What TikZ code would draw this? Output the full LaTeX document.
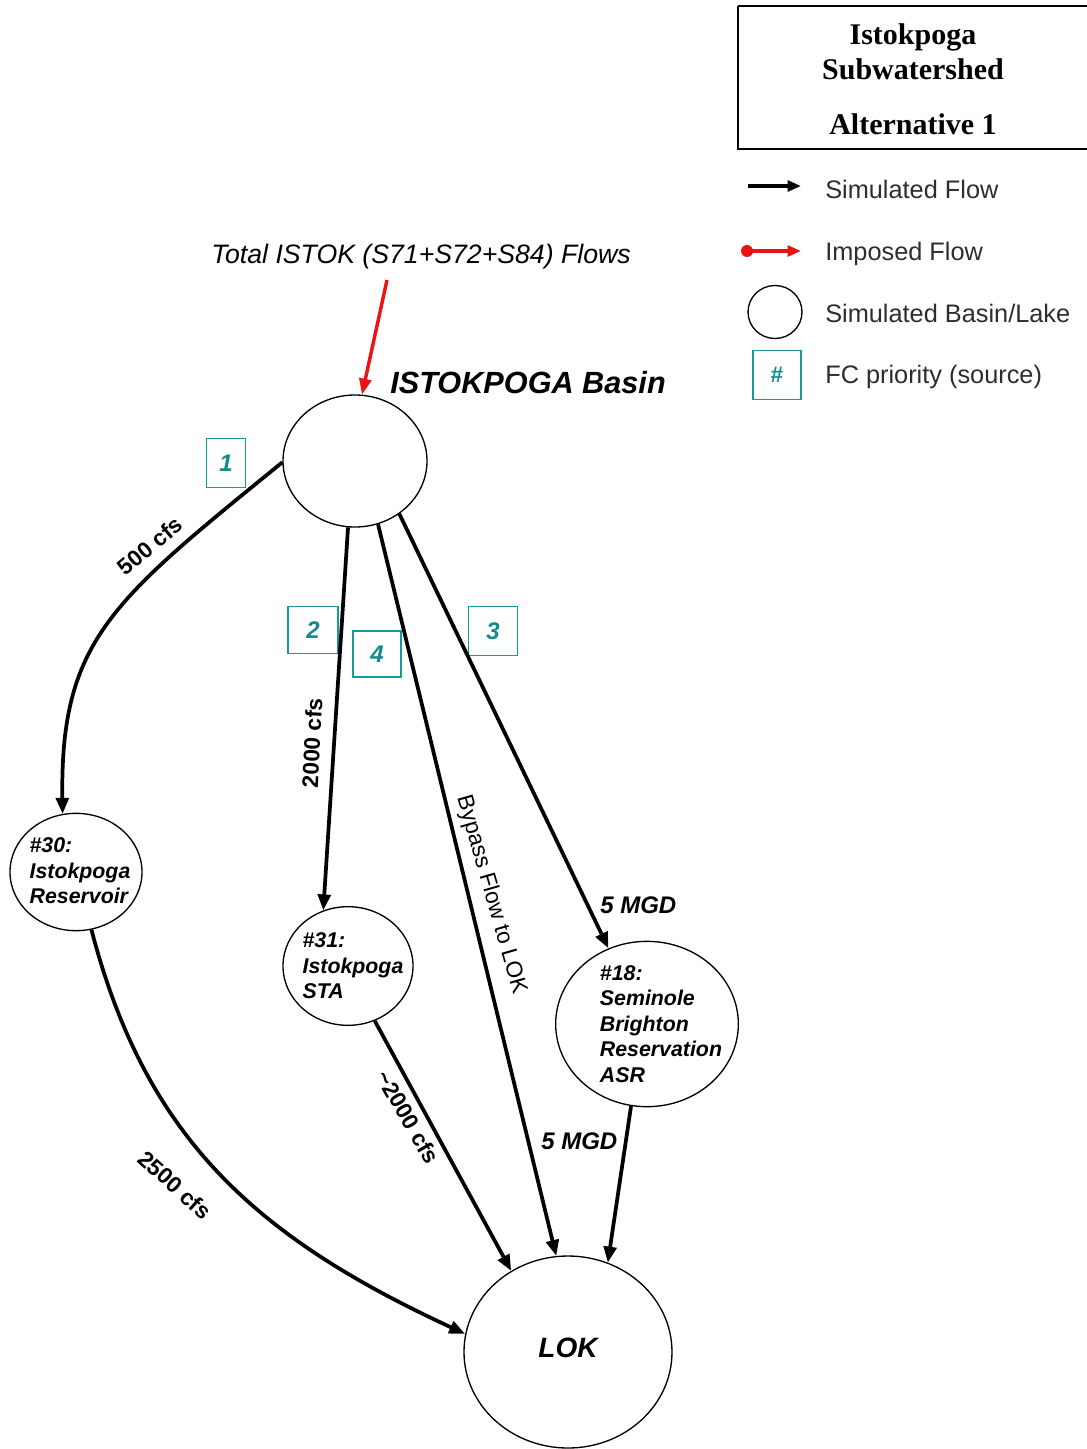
\documentclass[tikz,border=0pt]{standalone}
\usepackage{fontspec}
\setmainfont{Liberation Sans}
\newfontfamily\tnrfont{Liberation Serif}
\usetikzlibrary{arrows.meta,shapes.geometric}
\definecolor{tealbox}{RGB}{20,155,155}
\definecolor{tealtxt}{RGB}{15,140,140}
\definecolor{redflow}{RGB}{235,20,20}
\definecolor{legtxt}{RGB}{45,45,45}
\tikzset{
  flow/.style={line width=2.8pt, -{Triangle[length=12pt,width=9.5pt]}},
  redarrow/.style={line width=2.6pt, draw=redflow, -{Triangle[length=12pt,width=9pt]}},
  basin/.style={draw, ellipse, line width=1pt, inner sep=0pt},
  prio/.style={draw=tealbox, line width=1.2pt, text=tealtxt, inner sep=0pt,
    font=\bfseries\itshape\fontsize{18}{20}\selectfont},
  nodetext/.style={align=left, inner sep=0pt, font=\bfseries\itshape\fontsize{16}{19.2}\selectfont},
  lbl/.style={inner sep=0pt, font=\bfseries\fontsize{17}{20}\selectfont},
  lblit/.style={inner sep=0pt, font=\bfseries\itshape\fontsize{18}{20}\selectfont},
  legtext/.style={anchor=base west, inner sep=0pt, text=legtxt, font=\fontsize{19}{22}\selectfont},
  titletext/.style={anchor=base, inner sep=0pt, font=\tnrfont\bfseries\fontsize{22.5}{26}\selectfont},
  legarrow/.style={line width=3pt, -{Triangle[length=10pt,width=8pt]}}
}
\begin{document}
\begin{tikzpicture}[x=0.75pt,y=-0.75pt]
\useasboundingbox (0,0) rectangle (1086,1449);

% ---- title box (legend header)
\draw[line width=1.1pt] (738,6) -- (1095,6) (738,6) -- (738,149) -- (1095,149);
\node[titletext] (t1) at (913,44) {Istokpoga};
\node[titletext] (t2) at (913,79) {Subwatershed};
\node[titletext] (t3) at (913,134) {Alternative 1};

% ---- legend
\coordinate (lgA1) at (748,186);
\coordinate (lgA2) at (801,186);
\draw[legarrow] (lgA1) -- (lgA2);
\node[legtext] (lg1) at (825,198) {Simulated Flow};
\coordinate (lgB1) at (747,251);
\coordinate (lgB2) at (801,251);
\fill[redflow] (lgB1) circle[radius=4.5pt];
\draw[legarrow, draw=redflow, fill=redflow] (lgB1) -- (lgB2);
\node[legtext] (lg2) at (825,260) {Imposed Flow};
\node[basin, minimum width=40.5pt, minimum height=39.75pt] (lgC) at (775,312) {};
\node[legtext] (lg3) at (825,322) {Simulated Basin/Lake};
\node[prio, minimum width=36pt, minimum height=36.75pt, font=\bfseries\fontsize{17}{18}\selectfont] (lgD) at (777,375) {\#};
\node[legtext] (lg4) at (825,383) {FC priority (source)};

% ---- main nodes
\node[basin, minimum width=108pt, minimum height=99pt] (basin) at (355,461) {};
\node[inner sep=0pt, anchor=base west, font=\bfseries\itshape\fontsize{23}{26}\selectfont] (basinlbl) at (390,393) {ISTOKPOGA Basin};
\node[inner sep=0pt, anchor=base, font=\itshape\fontsize{20}{23}\selectfont] (total) at (421,263) {Total ISTOK (S71+S72+S84) Flows};
\coordinate (redstart) at (387,280);

\node[basin, minimum width=99pt, minimum height=88pt] (n30) at (76,872) {};
\node[nodetext] (n30t) at (80,871) {\#30:\\Istokpoga\\Reservoir};

\node[basin, minimum width=97.5pt, minimum height=89pt] (n31) at (348,966) {};
\node[nodetext] (n31t) at (353,966) {\#31:\\Istokpoga\\STA};

\node[basin, minimum width=137pt, minimum height=124pt] (n18) at (647,1024) {};
\node[nodetext] (n18t) at (661,1024) {\#18:\\Seminole\\Brighton\\Reservation\\ASR};

\node[basin, minimum width=156pt, minimum height=144pt] (lok) at (568,1352) {};
\node[inner sep=0pt, font=\bfseries\itshape\fontsize{21}{24}\selectfont] (lokt) at (568,1348) {LOK};

% ---- priority boxes
\node[prio, minimum width=29.5pt, minimum height=36.75pt] (p1) at (226,463) {1};
\node[prio, minimum width=37.5pt, minimum height=35.25pt] (p2) at (313,630) {2};
\node[prio, minimum width=36pt, minimum height=34.5pt] (p4) at (377,654) {4};
\node[prio, minimum width=36.75pt, minimum height=36.75pt] (p3) at (493,631) {3};

% ---- connectors
\draw[redarrow] (redstart) -- (basin.84);
\draw[flow] (basin.181) .. controls (112,601) and (60,640) .. (n30.103);
\draw[flow] (basin.264) -- (n31.114);
\draw[flow] (basin.290) -- (lok.97);
\draw[flow] (basin.310) -- (n18.117);
\draw[flow] (n30.285) .. controls (146,1140) and (258,1238) .. (lok.170);
\draw[flow] (n31.296) -- (lok.125);
\draw[flow] (n18.259) -- (lok.66);

% ---- connector labels
\node[lbl, rotate=40] (l500) at (150,546) {500 cfs};
\node[lbl, rotate=87] (l2000) at (312,743) {2000 cfs};
\node[inner sep=0pt, rotate=-74, font=\fontsize{17}{20}\selectfont] (lbyp) at (491,895) {Bypass Flow to LOK};
\node[lblit, anchor=base west] (lmgd1) at (600,913) {5 MGD};
\node[lbl, rotate=-60] (l2000b) at (408,1117) {\textasciitilde2000 cfs};
\node[lbl, rotate=-42] (l2500) at (175,1185) {2500 cfs};
\node[lblit, anchor=base west] (lmgd2) at (541,1149) {5 MGD};
\end{tikzpicture}
\end{document}
